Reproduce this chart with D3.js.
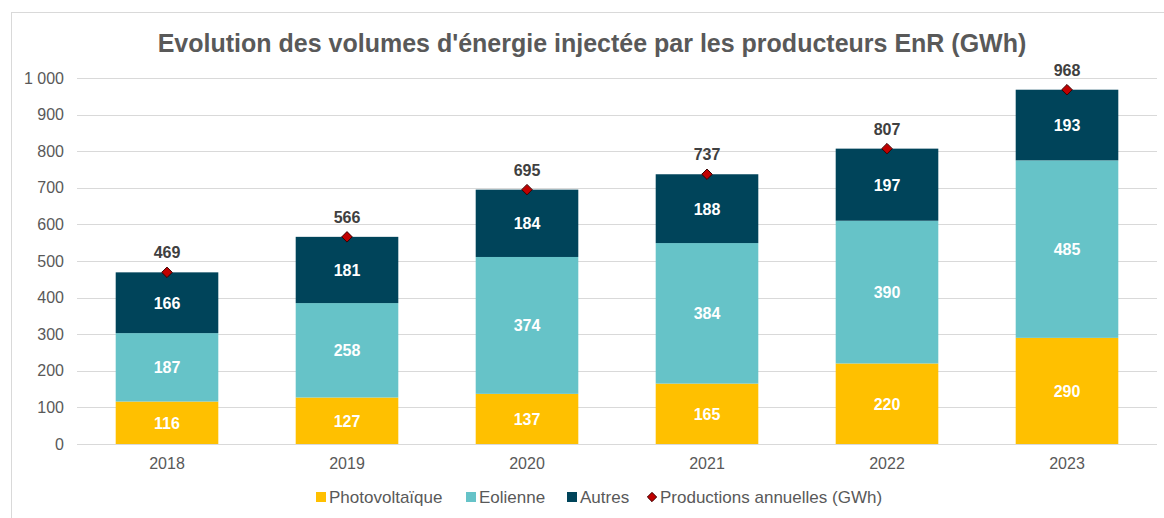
<!DOCTYPE html>
<html lang="fr">
<head>
<meta charset="UTF-8">
<title>Evolution des volumes d'énergie injectée</title>
<script src="https://cdn.jsdelivr.net/npm/d3@7"></script>
<style>
    body { margin: 0; background: #fff; font-family: Arial, 'Liberation Sans', sans-serif; }
    svg { display: block; }
    .grid line { stroke: #d9d9d9; stroke-width: 1px; }
    .axis text { fill: #595959; font-size: 16px; }
    .title { fill: #595959; font-size: 25px; font-weight: bold; }
    .seglabel { fill: #fff; font-size: 16px; font-weight: bold; text-anchor: middle; }
    .totlabel { fill: #404040; font-size: 16px; font-weight: bold; text-anchor: middle; }
    .legend text { fill: #595959; font-size: 17px; }
</style>
</head>
<body>
<svg id="chart" width="1164" height="518"></svg>
<script>
    "use strict";

    const years = ["2018", "2019", "2020", "2021", "2022", "2023"];
    const photovoltaique = [116, 127, 137, 165, 220, 290];
    const eolienne = [187, 258, 374, 384, 390, 485];
    const autres = [166, 181, 184, 188, 197, 193];
    const totals = [469, 566, 695, 737, 807, 968];
    const yTicks = [0, 100, 200, 300, 400, 500, 600, 700, 800, 900, 1000];

    const seriesNames = ["Photovoltaïque", "Eolienne", "Autres"];
    const seriesColors = ["#FFC000", "#66C3C8", "#00445A"];

    const svg = d3.select("#chart");

    // chart frame
    svg.append("rect")
        .attr("x", 11.5).attr("y", 12.5)
        .attr("width", 1170).attr("height", 520)
        .attr("fill", "none").attr("stroke", "#d9d9d9");

    svg.append("text")
        .attr("class", "title")
        .attr("x", 592).attr("y", 52)
        .attr("text-anchor", "middle")
        .text("Evolution des volumes d'énergie injectée par les producteurs EnR (GWh)");

    const x = d3.scaleBand().domain(years).range([77, 1157]).paddingInner(0.43).paddingOuter(0.215);
    const y = d3.scaleLinear().domain([0, 1000]).range([444, 78]);

    // gridlines
    svg.append("g").attr("class", "grid")
        .selectAll("line").data(yTicks).join("line")
        .attr("x1", 77).attr("x2", 1157)
        .attr("y1", d => Math.round(y(d)) + 0.5).attr("y2", d => Math.round(y(d)) + 0.5);

    // y axis labels
    svg.append("g").attr("class", "axis")
        .attr("transform", "translate(64,0)")
        .call(d3.axisLeft(y).tickValues(yTicks).tickSize(0).tickPadding(0).tickFormat(d => d === 1000 ? "1 000" : d))
        .call(g => g.select(".domain").remove())
        .call(g => g.selectAll("text").attr("font-family", null).attr("font-size", null).attr("fill", null));

    // x axis labels
    svg.append("g").attr("class", "axis")
        .attr("transform", "translate(0,454)")
        .call(d3.axisBottom(x).tickSize(0).tickPadding(4))
        .call(g => g.select(".domain").remove())
        .call(g => g.selectAll("text").attr("font-family", null).attr("font-size", null).attr("fill", null));

    const rows = years.map((yr, i) => ({ year: yr, s0: photovoltaique[i], s1: eolienne[i], s2: autres[i] }));
    const stack = d3.stack().keys(["s0", "s1", "s2"])(rows);

    const layers = svg.append("g").selectAll("g").data(stack).join("g")
        .attr("fill", (d, i) => seriesColors[i]);

    layers.selectAll("rect").data(d => d).join("rect")
        .attr("x", d => x(d.data.year))
        .attr("width", x.bandwidth())
        .attr("y", d => y(d[1]))
        .attr("height", d => y(d[0]) - y(d[1]));

    layers.selectAll("text").data(d => d).join("text")
        .attr("class", "seglabel")
        .attr("x", d => x(d.data.year) + x.bandwidth() / 2)
        .attr("y", d => (y(d[0]) + y(d[1])) / 2 + 6)
        .text(d => d[1] - d[0]);

    // totals: diamond markers + labels
    const diamond = d3.symbol().type(d3.symbolDiamond2).size(70);
    svg.append("g").selectAll("path").data(years).join("path")
        .attr("d", diamond)
        .attr("transform", (d, i) => `translate(${x(d) + x.bandwidth() / 2},${y(totals[i])})`)
        .attr("fill", "#C00000").attr("stroke", "#3a0000").attr("stroke-width", 1);

    svg.append("g").selectAll("text").data(years).join("text")
        .attr("class", "totlabel")
        .attr("x", d => x(d) + x.bandwidth() / 2)
        .attr("y", (d, i) => y(totals[i]) - 14)
        .text((d, i) => totals[i]);

    // legend
    const legendItems = [
        { name: seriesNames[0], color: seriesColors[0], x: 316 },
        { name: seriesNames[1], color: seriesColors[1], x: 466 },
        { name: seriesNames[2], color: seriesColors[2], x: 567 },
        { name: "Productions annuelles (GWh)", color: "#C00000", x: 647, diamond: true }
    ];
    const lg = svg.append("g").attr("class", "legend")
        .selectAll("g").data(legendItems).join("g")
        .attr("transform", d => `translate(${d.x},497)`);
    lg.filter(d => !d.diamond).append("rect")
        .attr("x", 0).attr("y", -5).attr("width", 10).attr("height", 10)
        .attr("fill", d => d.color);
    lg.filter(d => d.diamond).append("path")
        .attr("d", d3.symbol().type(d3.symbolDiamond2).size(55))
        .attr("transform", "translate(5,0)")
        .attr("fill", "#C00000").attr("stroke", "#3a0000");
    lg.append("text").attr("x", 13).attr("y", 6).text(d => d.name);
</script>
</body>
</html>
